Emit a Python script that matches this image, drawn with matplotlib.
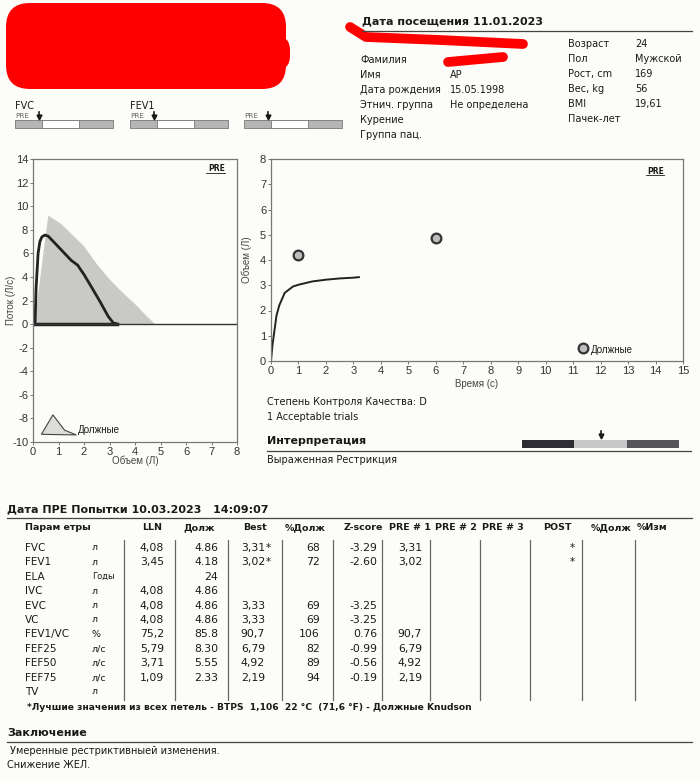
import numpy as np
import matplotlib
matplotlib.use("Agg")
import matplotlib.pyplot as plt
from matplotlib.patches import Polygon, Rectangle, FancyBboxPatch

# ---- data ----
fv_pred_x = [0.05, 0.6, 1.1, 2.0, 2.5, 3.0, 3.5, 4.0, 4.4, 4.78]
fv_pred_y = [0.0, 9.2, 8.5, 6.6, 5.1, 3.8, 2.7, 1.7, 0.8, 0.0]
fv_meas_x = [0.08, 0.1, 0.12, 0.16, 0.2, 0.27, 0.35, 0.47, 0.6, 0.93, 1.5, 1.75, 2.0, 2.25, 2.63, 2.95, 3.15, 3.3]
fv_meas_y = [0.0, 1.5, 3.0, 4.5, 6.0, 7.0, 7.4, 7.55, 7.45, 6.7, 5.4, 5.0, 4.2, 3.3, 1.9, 0.65, 0.1, 0.0]
vt_t = [0.0, 0.05, 0.1, 0.2, 0.3, 0.5, 0.8, 1.0, 1.5, 2.0, 2.5, 3.0, 3.2]
vt_v = [0.0, 0.6, 1.0, 1.8, 2.2, 2.7, 2.95, 3.02, 3.15, 3.22, 3.27, 3.3, 3.32]
vt_pred_t = [1.0, 6.0]
vt_pred_v = [4.2, 4.87]

params = ["FVC", "FEV1", "ELA", "IVC", "EVC", "VC", "FEV1/VC", "FEF25", "FEF50", "FEF75", "TV"]
units = ["л", "л", "Годы", "л", "л", "л", "%", "л/с", "л/с", "л/с", "л"]
lln = ["4,08", "3,45", "", "4,08", "4,08", "4,08", "75,2", "5,79", "3,71", "1,09", ""]
pred = ["4.86", "4.18", "24", "4.86", "4.86", "4.86", "85.8", "8.30", "5.55", "2.33", ""]
best = ["3,31*", "3,02*", "", "", "3,33", "3,33", "90,7", "6,79", "4,92", "2,19", ""]
pct_pred = ["68", "72", "", "", "69", "69", "106", "82", "89", "94", ""]
zscore = ["-3.29", "-2.60", "", "", "-3.25", "-3.25", "0.76", "-0.99", "-0.56", "-0.19", ""]
pre1 = ["3,31", "3,02", "", "", "", "", "90,7", "6,79", "4,92", "2,19", ""]
post = ["*", "*", "", "", "", "", "", "", "", "", ""]
headers = ["LLN", "Долж", "Best", "%Долж", "Z-score", "PRE # 1", "PRE # 2", "PRE # 3", "POST", "%Долж", "%Изм"]

left_labels = ["Фамилия", "Имя", "Дата рождения", "Этнич. группа", "Курение", "Группа пац."]
left_values = ["", "АР", "15.05.1998", "Не определена", "", ""]
right_labels = ["Возраст", "Пол", "Рост, cm", "Вес, kg", "BMI", "Пачек-лет"]
right_values = ["24", "Мужской", "169", "56", "19,61", ""]

BG = "#fcfcf8"
INK = "#1a1a1a"
plt.rcParams.update({"font.family": ["DejaVu Sans"], "text.color": INK,
                     "axes.unicode_minus": False})

W, H = 700, 781
fig = plt.figure(figsize=(W / 100, H / 100), dpi=100, facecolor=BG)
ax0 = fig.add_axes([0, 0, 1, 1])
ax0.set_xlim(0, W)
ax0.set_ylim(H, 0)
ax0.axis("off")


def txt(x, y, s, size=7.5, **kw):
    ax0.text(x, y, s, fontsize=size, va="center", **kw)


# redaction marks
ax0.add_patch(FancyBboxPatch((12, 9), 268, 74, boxstyle="round,pad=6,rounding_size=24",
                             fc="#ff0000", ec="none"))
ax0.add_patch(FancyBboxPatch((240, 38), 48, 30, boxstyle="round,pad=2,rounding_size=14",
                             fc="#ff0000", ec="none"))
ax0.plot([350, 366, 440, 523], [27, 37, 40, 44], color="#ff0000", lw=7, solid_capstyle="round")
ax0.plot([448, 503], [62, 57], color="#ff0000", lw=7, solid_capstyle="round")

# small FVC / FEV1 bars
for x0, lab in [(15, "FVC"), (130, "FEV1"), (244, "")]:
    if lab:
        txt(x0, 106, lab, 7)
    txt(x0, 116.5, "PRE", 5.2, color="#666")
    ax0.add_patch(Rectangle((x0, 120), 98, 8, fc="#b5b5b5", ec="#777", lw=0.6))
    ax0.add_patch(Rectangle((x0 + 27, 120), 37, 8, fc="white", ec="#777", lw=0.6))
    ax0.plot([x0 + 24, x0 + 24], [112, 116], color=INK, lw=1.2)
    ax0.plot([x0 + 24], [117], marker="v", ms=3.5, color=INK)

# patient header
txt(362, 21, "Дата посещения 11.01.2023", 8, fontweight="bold")
ax0.plot([362, 692], [31, 31], color="#444", lw=0.9)
for i, (a, b) in enumerate(zip(left_labels, left_values)):
    txt(360, 60 + 15 * i, a, 7)
    txt(450, 60 + 15 * i, b, 7)
for i, (a, b) in enumerate(zip(right_labels, right_values)):
    txt(568, 44 + 15 * i, a, 7)
    txt(635, 44 + 15 * i, b, 7)

# ---- flow-volume plot ----
TICK_FONT = ["Liberation Sans", "DejaVu Sans"]
ax1 = fig.add_axes([33 / W, 1 - 442 / H, 204 / W, 283 / H], facecolor="none")
ax1.fill(fv_pred_x, fv_pred_y, color="#c9c9c6", lw=0)
ax1.plot(fv_meas_x, fv_meas_y, color="#222", lw=2)
ax1.plot([0, fv_meas_x[-1]], [0, 0], color="#222", lw=2.5)
ax1.axhline(0, color="#333", lw=1)
ax1.add_patch(Polygon([[0.33, -9.35], [0.78, -7.7], [1.24, -9.0], [1.7, -9.4]], closed=True,
                      fc="#dcdcd8", ec="#444", lw=0.8))
ax1.text(1.75, -9.0, "Должные", fontsize=7, va="center", family=TICK_FONT)
ax1.set_xlim(0, 8)
ax1.set_ylim(-10, 14)
ax1.set_xticks(range(0, 9))
ax1.set_yticks(range(-10, 15, 2))
ax1.set_xlabel("Объем (Л)", fontsize=7, labelpad=-1, family=TICK_FONT, color="#444")
ax1.set_ylabel("Поток (Л/с)", fontsize=7, family=TICK_FONT, color="#444")
ax1.yaxis.set_label_coords(-0.085, 0.5)
ax1.text(0.94, 0.965, "PRE", transform=ax1.transAxes, fontsize=5.5, fontweight="bold",
         ha="right", va="center")
ax1.plot([0.85, 0.94], [0.952, 0.952], transform=ax1.transAxes, color=INK, lw=0.6)

# ---- volume-time plot ----
ax2 = fig.add_axes([271 / W, 1 - 361 / H, 412 / W, 202 / H], facecolor="none")
ax2.plot(vt_t, vt_v, color="#222", lw=1.4)
ax2.plot(vt_pred_t, vt_pred_v, ls="none", marker="o", ms=7, mfc="#bdbdbd", mec="#333", mew=1.6)
ax2.plot([11.35], [0.5], marker="o", ms=7, mfc="#bdbdbd", mec="#333", mew=1.6)
ax2.text(11.65, 0.45, "Должные", fontsize=7, va="center", family=TICK_FONT)
ax2.set_xlim(0, 15)
ax2.set_ylim(0, 8)
ax2.set_xticks(range(0, 16))
ax2.set_yticks(range(0, 9))
ax2.set_xlabel("Время (с)", fontsize=7, labelpad=2, family=TICK_FONT, color="#444")
ax2.set_ylabel("Объем (Л)", fontsize=7, family=TICK_FONT, color="#444")
ax2.yaxis.set_label_coords(-0.045, 0.5)
ax2.text(0.955, 0.94, "PRE", transform=ax2.transAxes, fontsize=5.5, fontweight="bold",
         ha="right", va="center")
ax2.plot([0.91, 0.955], [0.92, 0.92], transform=ax2.transAxes, color=INK, lw=0.6)

for ax in (ax1, ax2):
    for sp in ax.spines.values():
        sp.set_color("#777")
        sp.set_linewidth(0.9)
    ax.tick_params(length=2, width=0.7, color="#777", labelsize=8, pad=1.5, labelcolor="#333")
    for lab in ax.get_xticklabels() + ax.get_yticklabels():
        lab.set_family(TICK_FONT)

# quality / interpretation
txt(267, 402, "Степень Контроля Качества: D", 7)
txt(267, 417, "1 Acceptable trials", 7)
txt(267, 441, "Интерпретация", 8, fontweight="bold")
ax0.add_patch(Rectangle((522, 440), 52, 8, fc="#2d2d33", ec="none"))
ax0.add_patch(Rectangle((574, 440), 53, 8, fc="#c8c8c8", ec="none"))
ax0.add_patch(Rectangle((627, 440), 52, 8, fc="#55555a", ec="none"))
ax0.plot([601, 601], [431, 435], color=INK, lw=1.2)
ax0.plot([601], [436], marker="v", ms=3.5, color=INK)
ax0.plot([267, 691], [451, 451], color="#444", lw=0.9)
txt(267, 460, "Выраженная Рестрикция", 7)

# ---- results table ----
txt(7, 509, "Дата ПРЕ Попытки 10.03.2023   14:09:07", 8, fontweight="bold")
ax0.plot([7, 692], [518, 518], color="#444", lw=0.9)
txt(25, 528, "Парам етры", 6.8, fontweight="bold")
head_x = [152, 199, 255, 305, 363, 410, 456, 503, 557, 611, 652]
for hx, h in zip(head_x, headers):
    txt(hx, 528, h, 6.8, fontweight="bold", ha="center")

for vx in [124, 175, 228, 282, 333, 382, 430, 480, 530, 582, 635]:
    ax0.plot([vx, vx], [540, 700], color="#666", lw=0.9)

cols = [(164, lln), (218, pred), (320, pct_pred), (377, zscore), (422, pre1)]
for i in range(len(params)):
    y = 548 + 14.4 * i
    txt(25, y, params[i], 7.5)
    txt(92, y, units[i], 6 if units[i] == "Годы" else 6.8)
    for cx, col in cols:
        txt(cx, y, col[i], 7.8, ha="right")
    b = best[i]
    if b.endswith("*"):
        txt(265, y, b[:-1], 7.8, ha="right")
        txt(266, y, "*", 7.5, ha="left")
    else:
        txt(265, y, b, 7.8, ha="right")
    if post[i]:
        txt(575, y, post[i], 7.5, ha="right")

txt(27, 708, "*Лучшие значения из всех петель - BTPS  1,106  22 °C  (71,6 °F) - Должные Knudson", 6.6,
    fontweight="bold")

# conclusion
txt(7, 733, "Заключение", 8, fontweight="bold")
ax0.plot([7, 692], [742, 742], color="#444", lw=0.9)
txt(10, 751, "Умеренные рестриктивныей изменения.", 7)
txt(7, 765, "Снижение ЖЕЛ.", 7)

fig.savefig("out.png", dpi=100, facecolor=BG)
